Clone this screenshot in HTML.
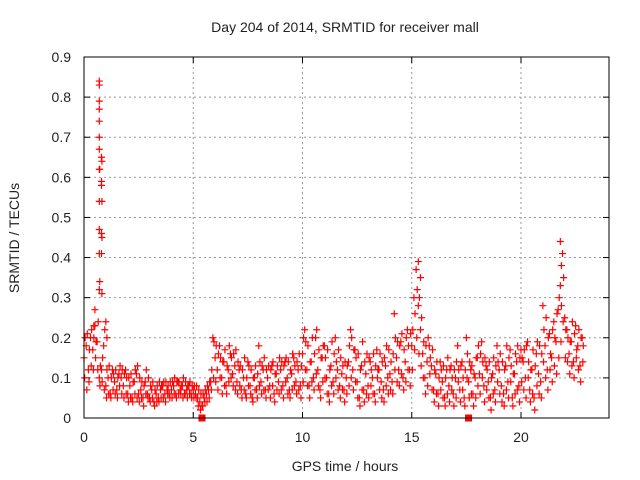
<!DOCTYPE html>
<html><head><meta charset="utf-8"><style>
body{margin:0;background:#fff}
svg{display:block;font-family:"Liberation Sans",sans-serif}
</style></head><body>
<svg id="chart" width="640" height="480">
<text x="345" y="32" font-size="14" text-anchor="middle" fill="#222">Day 204 of 2014, SRMTID for receiver mall</text>
<text x="345" y="471" font-size="14" text-anchor="middle" fill="#222">GPS time / hours</text>
<text transform="translate(19,238) rotate(-90)" font-size="14" text-anchor="middle" fill="#222">SRMTID / TECUs</text>
<g id="grid"></g><g id="marks"></g>
<rect x="84" y="57" width="525" height="361" fill="none" stroke="#000" stroke-width="1"/>
</svg>
<script>
const xTicks=[0,5,10,15,20];
const yTicks=[0,0.1,0.2,0.3,0.4,0.5,0.6,0.7,0.8,0.9];
const yTickLabels=["0","0.1","0.2","0.3","0.4","0.5","0.6","0.7","0.8","0.9"];
const startHour=0, stepHour=0.1;
const seriesValues=[
.15,.18,.12,.20,.17,.23,.19,.10,.12,.18,
.08,.10,.06,.12,.09,.07,.11,.10,.08,.12,
.06,.08,.05,.09,.11,.06,.07,.05,.09,.06,
.05,.07,.04,.06,.05,.07,.08,.06,.07,.06,
.07,.08,.06,.09,.07,.08,.06,.07,.08,.06,
.07,.06,.05,.04,.03,.05,.06,.07,.09,.20,
.15,.12,.18,.10,.14,.08,.12,.16,.11,.13,
.09,.12,.07,.10,.06,.14,.08,.05,.10,.07,
.18,.09,.12,.07,.10,.08,.13,.06,.11,.09,
.12,.08,.14,.10,.07,.11,.15,.09,.12,.08,
.16,.22,.12,.08,.14,.10,.20,.12,.07,.15,
.18,.10,.06,.13,.09,.20,.12,.08,.11,.07,
.10,.14,.22,.12,.17,.09,.05,.13,.07,.11,
.08,.14,.10,.06,.17,.12,.09,.07,.13,.10,
.11,.09,.26,.15,.12,.19,.10,.14,.22,.12,
.18,.30,.37,.28,.22,.16,.10,.14,.18,.13,
.07,.11,.06,.14,.09,.05,.12,.08,.13,.06,
.10,.18,.07,.14,.05,.20,.09,.12,.06,.10,
.15,.11,.19,.08,.13,.09,.05,.11,.07,.18,
.12,.08,.06,.13,.09,.17,.05,.11,.14,.08,
.17,.14,.10,.19,.07,.12,.05,.16,.11,.09,
.28,.18,.12,.21,.15,.24,.19,.27,.33,.41,
.25,.22,.16,.19,.14,.23,.18,.13,.20];
const highValues=[
.20,.21,.17,.22,.20,.19,.24,.13,.15,.22,
.12,.13,.10,.11,.12,.10,.13,.12,.11,.10,
.10,.11,.09,.12,.13,.10,.09,.08,.12,.10,
.08,.09,.07,.08,.09,.08,.09,.09,.08,.09,
.09,.10,.09,.09,.08,.10,.09,.08,.09,.08,
.08,.08,.07,.06,.06,.07,.08,.09,.12,.19,
.18,.16,.15,.14,.17,.13,.18,.15,.16,.17,
.14,.13,.12,.15,.10,.13,.12,.10,.13,.11,
.14,.13,.15,.12,.13,.12,.14,.11,.13,.15,
.14,.13,.15,.14,.12,.16,.13,.14,.16,.13,
.20,.19,.18,.14,.20,.16,.22,.17,.15,.18,
.15,.17,.12,.19,.16,.14,.17,.15,.13,.14,
.13,.18,.20,.17,.15,.16,.12,.19,.14,.16,
.15,.12,.16,.13,.12,.16,.14,.15,.18,.17,
.14,.16,.20,.19,.18,.21,.17,.20,.18,.21,
.22,.26,.32,.30,.25,.19,.18,.20,.15,.17,
.12,.14,.10,.12,.13,.10,.15,.12,.10,.12,
.14,.12,.13,.10,.12,.16,.14,.13,.11,.15,
.18,.16,.14,.15,.12,.14,.10,.15,.13,.14,
.16,.14,.12,.18,.15,.13,.11,.16,.18,.15,
.15,.17,.18,.14,.12,.17,.13,.19,.18,.16,
.22,.25,.20,.16,.22,.20,.26,.30,.28,.35,
.22,.20,.19,.24,.21,.17,.22,.20,.18];
const lowValues=[
.10,.07,.09,.13,.12,.15,.12,.08,.09,.07,
.05,.06,.05,.07,.06,.05,.08,.06,.05,.06,
.04,.05,.04,.06,.05,.04,.05,.03,.06,.05,
.04,.05,.03,.04,.04,.05,.05,.04,.06,.05,
.05,.06,.05,.06,.06,.05,.06,.05,.06,.05,
.05,.05,.03,.02,.03,.04,.04,.05,.07,.10,
.09,.07,.10,.06,.08,.06,.09,.10,.08,.07,
.06,.08,.05,.07,.05,.08,.06,.04,.07,.05,
.08,.06,.07,.05,.07,.05,.08,.04,.07,.06,
.07,.05,.09,.06,.05,.07,.08,.06,.07,.05,
.09,.12,.08,.05,.09,.07,.11,.08,.05,.09,
.10,.06,.04,.08,.06,.10,.07,.05,.07,.04,
.06,.08,.10,.07,.09,.05,.03,.07,.04,.06,
.05,.08,.06,.04,.10,.07,.05,.04,.08,.06,
.07,.06,.12,.09,.08,.11,.07,.09,.12,.08,
.12,.17,.20,.16,.13,.10,.06,.08,.11,.07,
.04,.06,.03,.07,.05,.03,.06,.04,.07,.03,
.05,.09,.04,.07,.03,.10,.05,.06,.03,.05,
.08,.06,.10,.04,.07,.05,.02,.06,.04,.09,
.06,.04,.03,.07,.05,.09,.03,.06,.07,.04,
.09,.07,.05,.10,.04,.06,.02,.08,.06,.05,
.14,.10,.07,.12,.09,.13,.11,.15,.19,.24,
.15,.14,.11,.13,.10,.15,.12,.09,.14];
const spikeTimes=[0.7,0.7,0.7,0.7,0.7,0.7,0.7,0.7,0.72,0.7,0.7,0.7,0.72,0.7,0.8,0.82,0.8,0.8,0.82,0.8,0.82,0.8,0.82,0.5,0.45,1.0,1.05,15.3,15.4,21.8,21.85];
const spikeValues=[0.84,0.83,0.79,0.77,0.74,0.70,0.67,0.62,0.62,0.54,0.47,0.41,0.34,0.32,0.65,0.64,0.59,0.58,0.54,0.46,0.45,0.41,0.31,0.27,0.23,0.24,0.20,0.39,0.35,0.44,0.38];
const gapTimes=[5.4,17.6];
const x=h=>84+h*21.85, y=v=>418-v*401.1;
const NS="http://www.w3.org/2000/svg";
const grid=document.getElementById('grid'), marks=document.getElementById('marks');
function mk(tag,attrs,parent){const e=document.createElementNS(NS,tag);for(const k in attrs)e.setAttribute(k,attrs[k]);parent.appendChild(e);return e;}
xTicks.forEach(t=>{
 if(t>0){const g=mk('line',{x1:x(t),x2:x(t),y1:57,y2:418,stroke:'#999','stroke-dasharray':'2,3'},grid);
 
 }
 mk('line',{x1:x(t),x2:x(t),y1:418,y2:412,stroke:'#000'},grid);
 mk('line',{x1:x(t),x2:x(t),y1:57,y2:63,stroke:'#000'},grid);
 const l=mk('text',{x:x(t),y:442,'font-size':14,'text-anchor':'middle',fill:'#222'},grid);
 l.textContent=t;
 
 
});
yTicks.forEach((t,i)=>{
 if(t>0&&t<0.9){const g=mk('line',{x1:84,x2:609,y1:y(t),y2:y(t),stroke:'#999','stroke-dasharray':'2,3'},grid);
 
 }
 mk('line',{x1:84,x2:90,y1:y(t),y2:y(t),stroke:'#000'},grid);
 mk('line',{x1:603,x2:609,y1:y(t),y2:y(t),stroke:'#000'},grid);
 const l=mk('text',{x:71,y:y(t)+5,'font-size':14,'text-anchor':'end',fill:'#222'},grid);
 l.textContent=yTickLabels[i];
 
 
});
function plus(h,v){
 const px=x(h),py=y(v);
 const p=mk('path',{d:`M${px-3.5},${py}h7M${px},${py-3.5}v7`,stroke:'#f00','stroke-width':1.2,fill:'none'},marks);
 
 
}
seriesValues.forEach((v,i)=>plus(startHour+i*stepHour,v));
highValues.forEach((v,i)=>plus(startHour+i*stepHour+0.05,v));
lowValues.forEach((v,i)=>plus(startHour+i*stepHour+0.03,v));
spikeTimes.forEach((t,i)=>plus(t,spikeValues[i]));
gapTimes.forEach(t=>{
 const r=mk('rect',{x:x(t)-3.5,y:414.5,width:7,height:7,fill:'#f00'},marks);
 
 
});
</script>
</body></html>
